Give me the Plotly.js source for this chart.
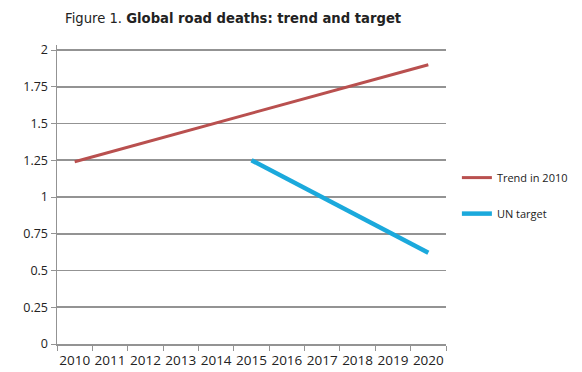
<!DOCTYPE html>
<html>
<head>
<meta charset="utf-8">
<script src="https://cdn.plot.ly/plotly-3.0.1.min.js"></script>
<style>html,body{margin:0;padding:0;background:#fff;}#chart{width:582px;height:372px;}</style>
</head>
<body>
<div id="chart"></div>
<script>
const years = ['2010','2011','2012','2013','2014','2015','2016','2017','2018','2019','2020'];
const trendYears = ['2010','2020'];
const trendValues = [1.24,1.90];
const targetYears = ['2015','2020'];
const targetValues = [1.25,0.62];
const yTickVals = [0,0.25,0.5,0.75,1,1.25,1.5,1.75,2];
const yTickText = ['0','0.25','0.5','0.75','1','1.25','1.5','1.75','2'];

const gridCol = '#939393';
const data = [
  {x: trendYears, y: trendValues, type:'scatter', mode:'lines', name:'Trend in 2010',
   legendgroup:'a', line:{color:'#b9504f', width:3}},
  {x: targetYears, y: targetValues, type:'scatter', mode:'lines', name:'UN target',
   legendgroup:'b', line:{color:'#1ba9dc', width:4.5}}
];
const layout = {
  width:582, height:372,
  margin:{l:57, r:136, t:45, b:28, autoexpand:false},
  paper_bgcolor:'#fff', plot_bgcolor:'#fff',
  font:{family:'"Open Sans", "Liberation Sans", sans-serif', size:12, color:'#222'},
  title:{text:'Figure 1. <b>Global road deaths: trend and target</b>',
    font:{family:'"DejaVu Sans", Verdana, sans-serif', size:13.2, color:'#222'},
    xref:'container', yref:'container', x:65/582, xanchor:'left', y:1-18/372, yanchor:'middle'},
  xaxis:{type:'category', categoryorder:'array', categoryarray: years,
    range:[-0.5, 10.5], tickson:'boundaries', ticks:'outside', ticklen:5, tickcolor:gridCol,
    tickangle:0, ticklabelstandoff:3, showgrid:false, showline:true, linecolor:gridCol, linewidth:1.5, zeroline:false,
    tickfont:{size:13.5, color:'#222'}, fixedrange:true, automargin:false},
  yaxis:{range:[0,2.034], tickvals:yTickVals, ticktext:yTickText, ticks:'outside', ticklen:5,
    tickcolor:gridCol, showgrid:true, gridcolor:gridCol, gridwidth:1.6,
    showline:true, linecolor:gridCol, linewidth:1.5, zeroline:false,
    tickfont:{size:12.5, color:'#222'}, fixedrange:true, automargin:false},
  showlegend:true,
  legend:{x:1.028, xanchor:'left', y:0.605, yanchor:'top', tracegroupgap:17,
    font:{size:11, color:'#222'}, bgcolor:'rgba(0,0,0,0)'}
};
Plotly.newPlot('chart', data, layout, {displayModeBar:false, staticPlot:true});
</script>
</body>
</html>
